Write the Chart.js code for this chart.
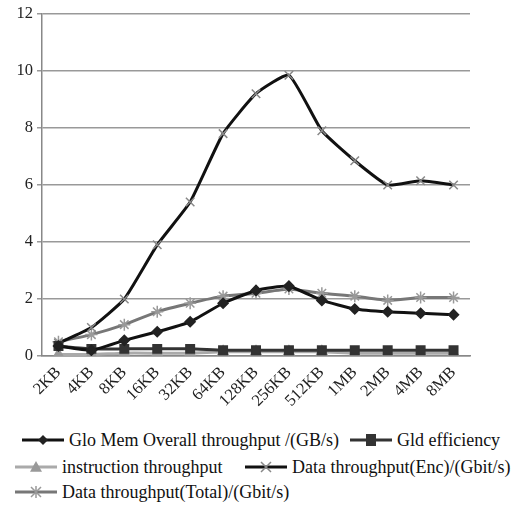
<!DOCTYPE html>
<html>
<head>
<meta charset="utf-8">
<script src="https://cdn.jsdelivr.net/npm/chart.js@4/dist/chart.umd.min.js"></script>
<style>
  body{margin:0;background:#fff;font-family:"Liberation Serif",serif;}
  #wrap{position:relative;width:532px;height:510px;}
  #c{position:absolute;left:0;top:0;}
  .lg{position:absolute;font-size:18px;line-height:20px;color:#111;white-space:nowrap;display:flex;align-items:center;}
  .ic{display:inline-block;width:42px;height:14px;margin-right:5px;}
</style>
</head>
<body>
<div id="wrap">
  <canvas id="c" width="532" height="425"></canvas>
  <div id="legend"></div>
</div>
<script>
const categories = ['2KB','4KB','8KB','16KB','32KB','64KB','128KB','256KB','512KB','1MB','2MB','4MB','8MB'];
const yTicks = [0,2,4,6,8,10,12];
const gloMem = [0.35,0.2,0.55,0.85,1.2,1.85,2.3,2.45,1.95,1.65,1.55,1.5,1.45];
const gldEff = [0.35,0.25,0.25,0.25,0.25,0.2,0.2,0.2,0.2,0.2,0.2,0.2,0.2];
const instThr = [0.05,0.05,0.1,0.1,0.1,0.15,0.15,0.15,0.15,0.1,0.1,0.1,0.1];
const encThr = [0.45,1.0,2.0,3.9,5.4,7.8,9.2,9.85,7.9,6.85,6.0,6.15,6.0];
const totalThr = [0.5,0.75,1.1,1.55,1.85,2.1,2.2,2.35,2.2,2.1,1.95,2.05,2.05];

const series = [
  {label:'Glo Mem Overall throughput /(GB/s)', data:gloMem, line:'#111', mark:'#222', style:'rectRot', r:5},
  {label:'Gld efficiency', data:gldEff, line:'#333', mark:'#333', style:'rect', r:6},
  {label:'instruction throughput', data:instThr, line:'#aaa', mark:'#999', style:'triangle', r:6},
  {label:'Data throughput(Enc)/(Gbit/s)', data:encThr, line:'#111', mark:'#888', style:'crossRot', r:6},
  {label:'Data throughput(Total)/(Gbit/s)', data:totalThr, line:'#777', mark:'#999', style:'star', r:6}
];

const font = {family:'"Liberation Serif", serif', size:16.5};

new Chart(document.getElementById('c'), {
  type:'line',
  data:{labels:categories, datasets:series.map(s=>({
    label:s.label, data:s.data, borderColor:s.line, borderWidth:3,
    pointStyle:s.style, pointRadius:s.r, pointBorderColor:s.mark, pointBackgroundColor:s.mark,
    pointBorderWidth:1.5, tension:0.15, fill:false
  }))},
  options:{
    responsive:false, animation:false,
    layout:{padding:{top:12,right:62,left:0,bottom:0}},
    plugins:{legend:{display:false}, tooltip:{enabled:false}},
    scales:{
      x:{offset:true,
        grid:{display:false, drawTicks:true, tickLength:5, color:'#888'},
        border:{color:'#888', width:1.5},
        ticks:{font, color:'#222', maxRotation:45, minRotation:45, padding:2},
        afterFit:a=>{a.height=69;}
      },
      y:{min:0,max:12,
        afterBuildTicks:a=>{a.ticks=yTicks.map(v=>({value:v}));},
        grid:{color:'#999', lineWidth:1.5, tickLength:5},
        border:{color:'#888', width:1.5},
        ticks:{font, color:'#222', padding:4},
        afterFit:a=>{a.width=42;}
      }
    }
  }
});

// legend: line with marker, then text
const lgPos = [[22,430],[350,430],[15,457],[245,457],[15,482]];
const lgEl = document.getElementById('legend');
series.forEach((s,i)=>{
  const d = document.createElement('div'); d.className='lg';
  d.style.left = lgPos[i][0]+'px'; d.style.top = lgPos[i][1]+'px';
  const ic = document.createElement('canvas'); ic.className='ic'; ic.width=42; ic.height=14;
  const g = ic.getContext('2d');
  g.strokeStyle = s.line; g.lineWidth = 3;
  g.beginPath(); g.moveTo(0,7); g.lineTo(42,7); g.stroke();
  g.fillStyle = s.mark; g.strokeStyle = s.mark; g.lineWidth = 1.5;
  const r = s.r;
  g.beginPath();
  if (s.style==='rectRot'){ g.moveTo(21,7-r); g.lineTo(21+r,7); g.lineTo(21,7+r); g.lineTo(21-r,7); g.closePath(); g.fill(); }
  else if (s.style==='rect'){ g.fillRect(21-r+1,1,2*r-2,12); }
  else if (s.style==='triangle'){ g.moveTo(21,7-r); g.lineTo(21+r,7+r*0.8); g.lineTo(21-r,7+r*0.8); g.closePath(); g.fill(); }
  else if (s.style==='crossRot'){ g.moveTo(16,2); g.lineTo(26,12); g.moveTo(26,2); g.lineTo(16,12); g.stroke(); }
  else { g.moveTo(16,2); g.lineTo(26,12); g.moveTo(26,2); g.lineTo(16,12); g.moveTo(21,1); g.lineTo(21,13); g.stroke(); }
  d.appendChild(ic);
  const t = document.createElement('span'); t.textContent = s.label; d.appendChild(t);
  lgEl.appendChild(d);
});
</script>
</body>
</html>
